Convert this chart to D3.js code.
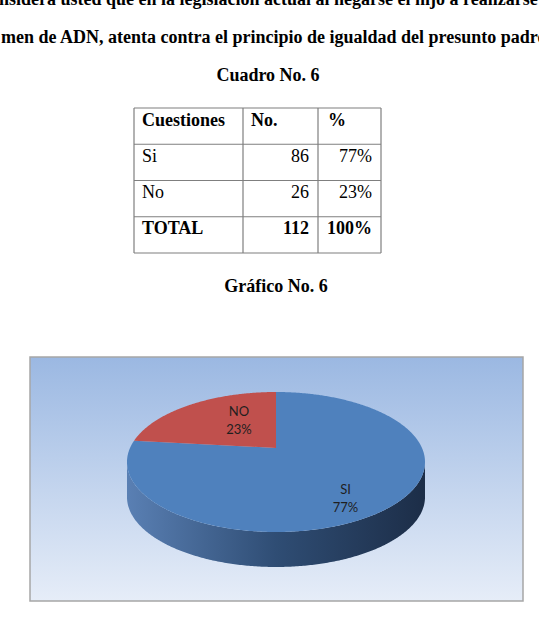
<!DOCTYPE html>
<html>
<head>
<meta charset="utf-8">
<script src="https://cdn.jsdelivr.net/npm/d3@7"></script>
<style>
  body { margin: 0; background: #fff; }
  svg { display: block; }
</style>
</head>
<body>
<div id="chart"></div>
<script>
// Data
const headingLines = [
    "nsidera usted que en la legislación actual al negarse el hijo a realizarse",
    "men de ADN, atenta contra el principio de igualdad del presunto padre"
];
const tableTitle = "Cuadro No. 6";
const chartTitle = "Gráfico No. 6";
const columns = ["Cuestiones", "No.", "%"];
const answers = ["Si", "No"];
const counts = [86, 26];
const percents = [77, 23];
const sliceLabels = ["SI", "NO"];
const sliceColors = ["#4f81bd", "#c0504d"];

const width = 539, height = 621;
const serif = "'Liberation Serif', 'Times New Roman', serif";

var svg = d3.select("#chart")
    .append("svg")
    .attr("width", width)
    .attr("height", height);

// question text (cut by the page edges)
svg.selectAll(".heading")
    .data(headingLines)
    .enter()
    .append("text")
    .attr("x", (d, i) => i == 0 ? -1 : 1)
    .attr("y", (d, i) => 5 + i * 38)
    .style("font-family", serif)
    .style("font-weight", "bold")
    .style("font-size", "18px")
    .text(d => d);

svg.append("text")
    .attr("x", 268).attr("y", 81)
    .attr("text-anchor", "middle")
    .style("font-family", serif).style("font-weight", "bold").style("font-size", "18px")
    .text(tableTitle);

// table
const colX = [134, 243, 318, 381];
const rowY = d3.range(5).map(i => 108 + i * 36.25);
const total = d3.sum(counts);
const rows = [columns]
    .concat(answers.map((a, i) => [a, counts[i], percents[i] + "%"]))
    .concat([["TOTAL", total, d3.sum(percents) + "%"]]);

var table = svg.append("g");
rowY.forEach(y => {
    table.append("line").attr("x1", colX[0]).attr("x2", colX[3]).attr("y1", y).attr("y2", y)
        .attr("stroke", "#7f7f7f").attr("stroke-width", 1.2);
});
colX.forEach(x => {
    table.append("line").attr("x1", x).attr("x2", x).attr("y1", rowY[0]).attr("y2", rowY[4])
        .attr("stroke", "#7f7f7f").attr("stroke-width", 1.2);
});
rows.forEach((row, r) => {
    const bold = r == 0 || r == rows.length - 1;
    row.forEach((cell, c) => {
        // header and first column left aligned, numbers right aligned
        const left = r == 0 || c == 0;
        table.append("text")
            .attr("x", left ? colX[c] + (c == 2 ? 10 : 8) : colX[c + 1] - 9)
            .attr("y", rowY[r] + 17.5)
            .attr("text-anchor", left ? "start" : "end")
            .style("font-family", serif)
            .style("font-weight", bold ? "bold" : "normal")
            .style("font-size", "18px")
            .text(cell);
    });
});

svg.append("text")
    .attr("x", 276).attr("y", 292)
    .attr("text-anchor", "middle")
    .style("font-family", serif).style("font-weight", "bold").style("font-size", "18px")
    .text(chartTitle);

// chart area
const box = { x: 30, y: 357, w: 493, h: 244 };
var defs = svg.append("defs");
var bg = defs.append("linearGradient").attr("id", "bgGrad")
    .attr("x1", 0).attr("y1", 0).attr("x2", 0).attr("y2", 1);
bg.append("stop").attr("offset", "0%").attr("stop-color", "#9bb8e2");
bg.append("stop").attr("offset", "100%").attr("stop-color", "#e6edf8");

svg.append("rect")
    .attr("x", box.x).attr("y", box.y).attr("width", box.w).attr("height", box.h)
    .attr("fill", "url(#bgGrad)")
    .attr("stroke", "#a6a6a6").attr("stroke-width", 1.5);

// 3D pie: project angle/radius of a unit disc with a bit of perspective
const cx = 276, cy = 448, rx = 146, ky = 67.2, persp = 0.2, depth = 35;
function project(a, r) {
    const u = r * Math.sin(a), v = -r * Math.cos(a);
    const s = 1 / (1 - persp * v);
    return [cx + rx * u * s, cy + ky * v * s];
}
function arcPoints(a0, a1) {
    const n = Math.max(2, Math.ceil((a1 - a0) / 0.01));
    return d3.range(n + 1).map(i => project(a0 + (a1 - a0) * i / n, 1));
}

var side = defs.append("linearGradient").attr("id", "sideGrad")
    .attr("gradientUnits", "userSpaceOnUse")
    .attr("x1", cx - rx * 1.03).attr("x2", cx + rx * 1.03).attr("y1", 0).attr("y2", 0);
side.append("stop").attr("offset", "0%").attr("stop-color", "#5a80b4");
side.append("stop").attr("offset", "50%").attr("stop-color", "#2f4d74");
side.append("stop").attr("offset", "100%").attr("stop-color", "#1c2d47");
var sideRed = defs.append("linearGradient").attr("id", "sideGradRed")
    .attr("gradientUnits", "userSpaceOnUse")
    .attr("x1", cx - rx * 1.03).attr("x2", cx + rx * 1.03).attr("y1", 0).attr("y2", 0);
sideRed.append("stop").attr("offset", "0%").attr("stop-color", "#b04a47");
sideRed.append("stop").attr("offset", "100%").attr("stop-color", "#5e2322");

var pie = d3.pie().sort(null).value(d => d);
var dataReady = pie(counts);
var line = d3.line();

// visible front wall lies between the two silhouette angles
const frontStart = Math.acos(-persp), frontEnd = 2 * Math.PI - Math.acos(-persp);
svg.selectAll(".wall")
    .data(dataReady.filter(d => d.endAngle > frontStart && d.startAngle < frontEnd))
    .enter()
    .append("path")
    .attr("d", d => {
        const top = arcPoints(Math.max(d.startAngle, frontStart), Math.min(d.endAngle, frontEnd));
        const bottom = top.map(p => [p[0], p[1] + depth]).reverse();
        return line(top.concat(bottom)) + "Z";
    })
    .attr("fill", d => d.index == 0 ? "url(#sideGrad)" : "url(#sideGradRed)");

svg.selectAll(".slice")
    .data(dataReady)
    .enter()
    .append("path")
    .attr("d", d => line([project(0, 0)].concat(arcPoints(d.startAngle, d.endAngle))) + "Z")
    .attr("fill", d => sliceColors[d.index]);

// labels: centre of slice, pushed out a little for bigger slices
var labels = svg.selectAll(".lbl")
    .data(dataReady)
    .enter()
    .append("g")
    .attr("transform", d => {
        const mid = (d.startAngle + d.endAngle) / 2;
        const share = (d.endAngle - d.startAngle) / (2 * Math.PI);
        const r = 0.3 + 0.45 * share;
        const p = project(mid, r);
        const v = -r * Math.cos(mid);
        return "translate(" + p[0] + "," + (p[1] + 30 * v) + ")";
    });
labels.append("text")
    .attr("y", -4)
    .text(d => sliceLabels[d.index]);
labels.append("text")
    .attr("y", 14)
    .text(d => percents[d.index] + "%");
labels.selectAll("text")
    .attr("text-anchor", "middle")
    .style("font-family", "Lato, 'Open Sans', sans-serif")
    .style("font-size", "13px")
    .attr("fill", "#1f1f1f");
</script>
</body>
</html>
